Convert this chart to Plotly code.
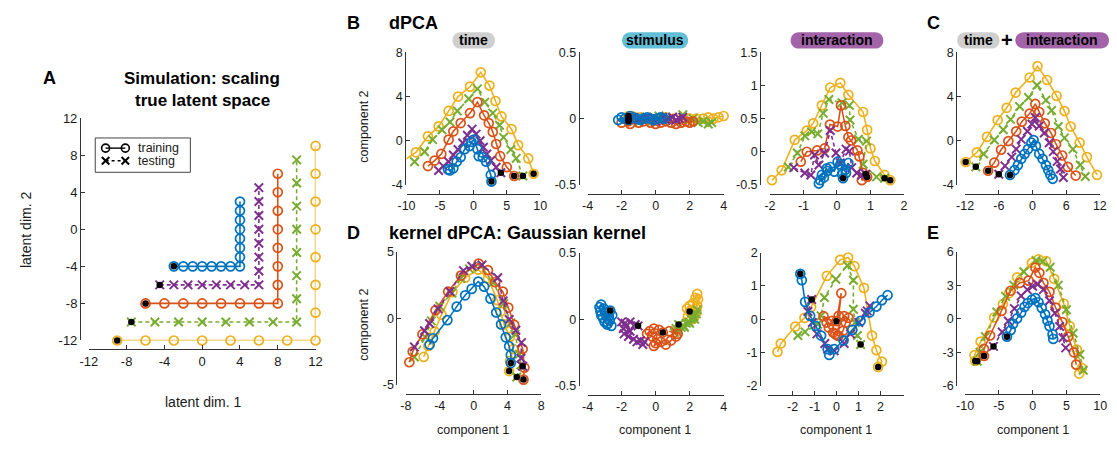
import plotly.graph_objects as go

W, H = 1117, 449
FONT = "Liberation Sans, Arial, Helvetica, sans-serif"
TXT = "#1a1a1a"
COL = {"blue": "#0072BD", "orange": "#D95319", "yellow": "#EDB120",
       "purple": "#7E2F8E", "green": "#77AC30"}
TESTING = {"purple", "green"}
ORDER = ["yellow", "green", "orange", "purple", "blue"]

# ---------------- Panel A: true latent space ----------------
a_blue_x = [-3, -2, -1, 0, 1, 2, 3, 4, 4, 4, 4, 4, 4, 4, 4]
a_blue_y = [-4, -4, -4, -4, -4, -4, -4, -4, -3, -2, -1, 0, 1, 2, 3]
a_purple_x = [-4.5, -3, -1.5, 0, 1.5, 3, 4.5, 6, 6, 6, 6, 6, 6, 6, 6]
a_purple_y = [-6, -6, -6, -6, -6, -6, -6, -6, -4.5, -3, -1.5, 0, 1.5, 3, 4.5]
a_orange_x = [-6, -4, -2, 0, 2, 4, 6, 8, 8, 8, 8, 8, 8, 8, 8]
a_orange_y = [-8, -8, -8, -8, -8, -8, -8, -8, -6, -4, -2, 0, 2, 4, 6]
a_green_x = [-7.5, -5, -2.5, 0, 2.5, 5, 7.5, 10, 10, 10, 10, 10, 10, 10, 10]
a_green_y = [-10, -10, -10, -10, -10, -10, -10, -10, -7.5, -5, -2.5, 0, 2.5, 5, 7.5]
a_yellow_x = [-9, -6, -3, 0, 3, 6, 9, 12, 12, 12, 12, 12, 12, 12, 12]
a_yellow_y = [-12, -12, -12, -12, -12, -12, -12, -12, -9, -6, -3, 0, 3, 6, 9]

# ---------------- Panel B: dPCA time ----------------
bt_yellow_x = [9.0, 8.2, 6.7, 5.7, 4.2, 3.3, 2.4, 1.1, -0.5, -2.3, -3.7, -5.2, -6.8, -8.6, -10.2]
bt_yellow_y = [-3.0, -1.6, -0.4, 1.05, 2.2, 3.6, 5.0, 6.2, 4.9, 4.0, 2.7, 1.3, 0.4, -1.05, -1.7]
bt_green_x = [7.4, 6.4, 5.6, 4.5, 3.9, 2.9, 1.7, 0.6, -0.7, -2.4, -3.5, -4.7, -6.1, -7.3, -8.8]
bt_green_y = [-3.2, -1.6, -0.8, 0.3, 1.4, 2.5, 3.5, 4.7, 3.8, 2.7, 1.7, 1.0, 0.1, -1.0, -1.9]
bt_orange_x = [6.1, 5.0, 4.0, 3.4, 2.9, 2.3, 1.6, 0.6, -0.5, -1.9, -3.0, -3.7, -4.8, -5.8, -6.8]
bt_orange_y = [-3.2, -2.4, -1.4, -0.3, 0.8, 1.6, 2.3, 3.5, 2.5, 1.6, 0.85, 0.1, -1.2, -1.8, -2.3]
bt_purple_x = [4.1, 3.4, 2.6, 2.0, 1.5, 1.0, 0.4, -0.2, -0.9, -1.6, -2.3, -3.0, -3.7, -4.5, -5.2]
bt_purple_y = [-2.9, -2.4, -1.8, -1.2, -0.6, 0.0, 0.6, 1.05, 0.5, -0.2, -0.8, -1.3, -1.9, -2.3, -2.7]
bt_blue_x = [2.7, 2.6, 1.9, 1.4, 0.8, 0.6, 0.05, -0.3, -0.6, -1.3, -1.9, -2.5, -3.0, -3.5, -3.8]
bt_blue_y = [-3.7, -3.1, -1.9, -1.5, -1.4, -0.76, 0.1, -0.1, -0.5, -0.76, -1.5, -1.9, -2.5, -2.7, -2.6]

# ---------------- Panel B: dPCA stimulus ----------------
bs_yellow_x = [-1.6, -1.4, -0.9, -0.4, 0.1, 0.6, 1.1, 1.6, 2.0, 2.4, 2.8, 3.1, 3.4, 3.7, 4.0]
bs_yellow_y = [0.02, 0.02, 0.01, 0.0, 0.0, 0.01, 0.0, -0.01, 0.0, 0.0, 0.0, 0.01, 0.0, 0.01, 0.02]
bs_green_x = [-1.6, -1.0, -0.6, -0.2, 0.2, 0.6, 1.0, 1.3, 1.6, 1.9, 2.2, 2.5, 2.8, 3.1, 3.3]
bs_green_y = [-0.01, -0.03, 0.01, -0.02, 0.02, -0.01, 0.01, -0.03, 0.03, -0.02, 0.0, -0.03, -0.02, -0.04, -0.03]
bs_orange_x = [-1.6, -2.0, -1.5, -1.0, -0.7, -0.3, 0.0, 0.3, 0.6, 0.9, 1.2, 1.5, 1.8, 2.0, 2.2]
bs_orange_y = [-0.02, -0.03, -0.04, -0.03, -0.02, -0.03, -0.04, -0.03, -0.02, -0.03, -0.04, -0.03, -0.02, -0.03, -0.02]
bs_purple_x = [-1.6, -1.3, -1.0, -0.8, -0.5, -0.3, 0.0, 0.2, 0.4, 0.6, 0.8, 1.0, 1.2, 1.4, 1.6]
bs_purple_y = [0.0, 0.01, -0.01, 0.0, 0.01, 0.0, -0.02, 0.0, 0.01, -0.01, 0.0, 0.01, -0.01, 0.0, 0.01]
bs_blue_x = [-1.6, -2.2, -2.0, -1.8, -1.5, -1.3, -1.1, -0.9, -0.7, -0.5, -0.3, -0.1, 0.1, 0.3, 0.5]
bs_blue_y = [-0.01, -0.01, 0.01, 0.0, 0.02, 0.01, 0.0, -0.01, 0.0, 0.01, 0.0, -0.01, 0.0, 0.01, 0.0]

# ---------------- Panel B: dPCA interaction ----------------
bi_yellow_x = [1.59, 1.42, 1.13, 1.0, 0.9, 0.78, 0.34, 0.1, -0.2, -0.45, -0.71, -0.9, -1.26, -1.65, -1.94]
bi_yellow_y = [-0.43, -0.35, -0.14, 0.05, 0.33, 0.6, 0.86, 1.04, 0.97, 0.7, 0.43, 0.32, 0.18, -0.28, -0.43]
bi_green_x = [1.42, 1.18, 0.78, 0.88, 0.64, 0.39, 0.37, 0.15, -0.24, -0.41, -0.57, -0.76, -0.96, -1.18, -1.45]
bi_green_y = [-0.4, -0.38, -0.19, 0.16, 0.19, 0.48, 0.7, 0.74, 0.79, 0.58, 0.27, 0.3, 0.24, -0.02, -0.23]
bi_orange_x = [0.9, 0.74, 0.78, 0.67, 0.61, 0.42, 0.34, 0.25, 0.12, 0.02, -0.21, -0.37, -0.59, -0.9, -1.08]
bi_orange_y = [-0.38, -0.43, -0.32, -0.07, 0.02, 0.17, 0.22, 0.39, 0.70, 0.38, 0.41, 0.05, 0.02, 0.0, -0.15]
bi_purple_x = [0.86, 0.74, 0.59, 0.44, 0.37, 0.27, 0.1, -0.03, -0.2, -0.37, -0.54, -0.67, -0.78, -0.96, -1.29]
bi_purple_y = [-0.34, -0.35, -0.32, -0.24, 0.01, 0.04, -0.17, -0.02, 0.32, -0.02, -0.2, -0.05, -0.35, -0.32, -0.24]
bi_blue_x = [0.18, 0.15, 0.27, 0.34, 0.25, 0.1, 0.02, -0.08, -0.2, -0.29, -0.39, -0.5, -0.54, -0.45, -0.3]
bi_blue_y = [-0.4, -0.34, -0.32, -0.17, -0.27, -0.19, -0.15, -0.3, -0.23, -0.29, -0.39, -0.43, -0.48, -0.35, -0.25]

# ---------------- Panel C: time + interaction ----------------
c_yellow_x = [-11.9, -9.9, -8.1, -6.2, -4.6, -3.0, -0.5, 0.9, 2.6, 4.3, 5.7, 6.8, 8.4, 9.7, 11.5]
c_yellow_y = [-1.93, -1.05, 0.35, 1.87, 2.98, 4.36, 5.73, 6.75, 5.5, 4.06, 2.69, 1.29, -0.18, -1.49, -3.1]
c_green_x = [-10.1, -8.7, -6.8, -5.2, -3.9, -2.3, -0.7, 0.8, 2.4, 3.4, 4.6, 5.7, 7.2, 8.5, 9.4]
c_green_y = [-2.37, -1.2, 0.06, 0.99, 1.93, 3.1, 3.92, 5.03, 3.68, 2.75, 1.29, 0.26, -0.76, -2.2, -3.25]
c_orange_x = [-7.9, -6.8, -5.6, -4.3, -2.9, -1.9, -0.5, 0.5, 1.2, 2.2, 3.3, 4.2, 5.3, 6.3, 7.7]
c_orange_y = [-2.72, -1.99, -0.82, -0.03, 0.85, 1.73, 2.46, 3.33, 2.6, 1.58, 0.7, -0.32, -1.34, -2.37, -3.16]
c_purple_x = [-6.0, -4.9, -3.7, -2.9, -2.0, -0.9, -0.1, 0.5, 1.2, 2.1, 3.0, 3.7, 4.4, 5.0, 5.5]
c_purple_y = [-3.04, -2.28, -1.49, -0.76, 0.12, 0.85, 1.52, 2.1, 1.34, 0.7, -0.18, -0.99, -1.87, -2.57, -3.33]
c_blue_x = [-4.0, -3.2, -2.6, -2.0, -1.4, -0.8, -0.2, 0.2, 0.6, 1.2, 1.8, 2.4, 2.8, 3.2, 3.6]
c_blue_y = [-3.1, -2.66, -2.22, -1.64, -1.2, -0.76, -0.18, 0.06, -0.47, -1.2, -1.64, -2.22, -2.66, -3.1, -3.45]

# ---------------- Panel D: kernel dPCA time ----------------
dt_yellow_x = [4.2, 4.3, 4.7, 4.3, 3.6, 3.2, 2.8, 1.7, 0.55, -1.0, -2.5, -3.8, -4.6, -5.35, -5.9]
dt_yellow_y = [-3.96, -3.2, -2.3, -1.4, -0.46, 0.5, 1.35, 3.0, 3.64, 3.04, 1.96, 0.27, -1.0, -2.08, -2.9]
dt_green_x = [5.1, 5.6, 5.4, 4.9, 4.4, 3.57, 2.3, 0.85, -0.5, -1.5, -2.56, -4.0, -5.0, -5.7, -7.0]
dt_green_y = [-4.4, -3.5, -2.7, -1.2, -0.34, 1.1, 2.7, 3.89, 3.7, 3.0, 1.88, 0.9, -0.2, -1.43, -2.9]
dt_orange_x = [5.9, 6.0, 5.8, 4.8, 4.1, 3.45, 2.56, 1.7, 0.6, -1.5, -3.0, -4.5, -6.05, -7.2, -7.6]
dt_orange_y = [-4.6, -3.7, -2.3, -0.5, 0.8, 2.0, 2.7, 3.6, 4.1, 3.2, 2.0, 0.6, -1.2, -2.5, -3.3]
dt_purple_x = [5.8, 5.6, 5.66, 5.0, 4.2, 3.5, 2.85, 1.0, -0.2, -1.2, -2.8, -4.2, -5.2, -5.8, -7.0]
dt_purple_y = [-3.6, -3.0, -1.83, -0.9, -0.1, 1.3, 3.04, 4.0, 3.9, 3.57, 2.0, 0.7, -0.4, -0.94, -2.15]
dt_blue_x = [4.4, 4.4, 4.2, 3.8, 3.25, 2.67, 2.0, 1.24, 0.55, -0.23, -1.0, -2.0, -3.1, -4.8, -5.2]
dt_blue_y = [-3.36, -2.75, -2.1, -1.43, -0.46, 0.43, 1.47, 2.37, 2.75, 2.2, 1.72, 0.87, -0.14, -1.5, -1.98]

# ---------------- Panel D: kernel dPCA stimulus ----------------
ds_yellow_x = [2.0, 1.9, 1.85, 2.0, 2.15, 2.3, 2.4, 2.45, 2.5, 2.45, 2.35, 2.2, 2.1, 2.25, 2.4]
ds_yellow_y = [0.058, 0.02, 0.08, 0.1, 0.07, 0.03, 0.05, 0.1, 0.15, 0.19, 0.16, 0.12, 0.0, 0.01, 0.08]
ds_green_x = [1.35, 1.2, 1.1, 1.3, 1.5, 1.65, 1.8, 1.95, 2.1, 2.25, 2.4, 2.45, 2.3, 2.0, 1.7]
ds_green_y = [-0.04, -0.07, -0.1, -0.08, -0.06, -0.05, -0.03, -0.02, 0.0, 0.02, 0.04, 0.07, 0.0, -0.03, -0.06]
ds_orange_x = [0.42, 0.2, -0.1, -0.35, -0.5, -0.2, 0.1, 0.0, -0.1, 0.3, 0.6, 0.9, 1.2, 1.3, 0.8]
ds_orange_y = [-0.1, -0.08, -0.07, -0.09, -0.11, -0.13, -0.15, -0.18, -0.2, -0.17, -0.19, -0.16, -0.13, -0.11, -0.09]
ds_purple_x = [-1.03, -1.2, -1.5, -1.8, -2.0, -1.9, -1.7, -1.5, -1.85, -1.6, -1.3, -1.1, -0.9, -0.75, -0.65]
ds_purple_y = [-0.05, -0.04, -0.02, -0.03, -0.02, -0.07, -0.05, -0.09, -0.11, -0.13, -0.15, -0.17, -0.16, -0.19, -0.17]
ds_blue_x = [-2.67, -2.55, -2.7, -2.85, -3.0, -3.1, -3.2, -3.25, -3.3, -3.2, -3.05, -2.9, -2.75, -2.6, -2.8]
ds_blue_y = [0.065, 0.03, -0.01, -0.04, -0.02, 0.01, 0.03, 0.06, 0.09, 0.11, 0.08, 0.05, 0.02, -0.05, -0.03]

# ---------------- Panel D: kernel dPCA interaction ----------------
di_yellow_x = [1.9, 2.07, 1.82, 1.62, 1.25, 0.82, 0.53, 0.17, -0.44, -1.16, -1.46, -1.88, -2.54, -2.69]
di_yellow_y = [-1.43, -1.27, -0.93, -0.49, 0.94, 1.59, 1.85, 1.78, 1.3, 0.36, 0.04, -0.22, -0.73, -0.98]
di_green_x = [1.1, 0.95, 0.85, 0.77, 0.77, 0.5, -0.03, -0.55, -0.7, -0.86, -1.43, -1.76]
di_green_y = [-0.76, -0.49, -0.1, 0.3, 1.17, 1.61, 1.2, 0.65, 0.1, -0.15, -0.38, -0.49]
di_orange_x = [0.0, 0.22, 0.1, -0.2, -0.59, -0.45, -0.35, -0.15, 0.05, 0.1, 0.3, 0.42, 0.55, 0.35, -0.05]
di_orange_y = [-0.06, 0.78, 0.1, -0.05, 0.09, -0.1, -0.25, -0.4, -0.49, -0.5, -0.35, -0.1, 0.04, 0.09, -0.45]
di_purple_x = [-1.13, -1.3, -1.1, -0.89, -0.53, -0.4, -0.1, 0.35, 0.64, 1.02, 1.32, 1.52, 1.4]
di_purple_y = [0.59, 0.23, -0.1, -0.44, -0.73, -0.9, -0.95, -0.73, -0.44, -0.1, 0.18, 0.4, 0.25]
di_blue_x = [-1.65, -1.58, -1.43, -1.2, -0.95, -0.7, -0.4, -0.33, -0.1, 0.32, 0.72, 1.1, 1.5, 1.82, 2.07, 2.33]
di_blue_y = [1.36, 1.17, 0.52, 0.1, -0.2, -0.49, -0.9, -1.07, -0.9, -0.64, -0.32, -0.05, 0.2, 0.38, 0.57, 0.72]

# ---------------- Panel E ----------------
e_yellow_x = [-8.5, -8.6, -7.7, -5.7, -4.4, -3.5, -2.3, -0.1, 0.87, 2.0, 3.2, 4.6, 5.5, 6.55, 7.3, 6.9]
e_yellow_y = [-3.77, -3.25, -2.04, 0.11, 1.3, 2.27, 3.7, 5.0, 5.3, 5.15, 3.56, 1.35, -0.66, -2.76, -4.4, -4.9]
e_green_x = [-8.2, -7.8, -7.0, -5.3, -4.0, -2.8, -1.3, 0.5, 1.5, 2.6, 3.8, 5.0, 6.0, 7.0, 7.5]
e_green_y = [-3.8, -3.0, -1.6, 0.6, 2.0, 3.0, 4.2, 5.2, 5.1, 4.6, 3.0, 0.8, -1.3, -3.2, -4.6]
e_orange_x = [-7.2, -7.2, -6.3, -4.6, -3.25, -1.9, -0.6, 0.4, 1.0, 1.6, 2.5, 3.4, 4.4, 5.25, 6.1, 6.45]
e_orange_y = [-3.33, -2.7, -1.5, 0.7, 2.5, 3.2, 3.4, 4.57, 4.1, 3.2, 2.4, 1.0, -0.3, -1.6, -3.0, -4.1]
e_purple_x = [-5.8, -4.5, -3.6, -2.7, -1.7, -0.8, 0.0, 0.73, 1.6, 2.5, 3.3, 4.0, 4.5, 4.9]
e_purple_y = [-2.47, -1.18, -0.2, 0.9, 2.04, 2.6, 2.9, 3.08, 2.6, 1.6, 0.5, -0.7, -1.7, -2.6]
e_blue_x = [-3.8, -3.25, -2.9, -2.3, -1.7, -1.2, -0.73, -0.1, 0.39, 0.87, 1.35, 1.85, 2.2, 2.5, 2.95, 3.05]
e_blue_y = [-1.6, -1.03, -0.46, 0.03, 0.54, 1.06, 1.4, 1.7, 1.84, 1.47, 0.97, 0.4, -0.17, -0.66, -1.4, -1.8]

# ---------------- tick labels ----------------
a_ticks = [-12, -8, -4, 0, 4, 8, 12]
bt_xticks, bt_yticks = [-10, -5, 0, 5, 10], [-4, 0, 4, 8]
stim_xticks, stim_yticks = [-4, -2, 0, 2, 4], [-0.5, 0, 0.5]
bi_xticks, bi_yticks = [-2, -1, 0, 1, 2], [-0.5, 0, 0.5, 1, 1.5]
c_xticks, c_yticks = [-12, -6, 0, 6, 12], [-4, 0, 4, 8]
dt_xticks, dt_yticks = [-8, -4, 0, 4, 8], [-5, 0, 5]
di_xticks, di_yticks = [-2, -1, 0, 1, 2], [-2, -1, 0, 1, 2]
e_xticks, e_yticks = [-10, -5, 0, 5, 10], [-6, -3, 0, 3, 6]

data = {k: v for k, v in globals().items()}


def fx(px):
    return px / W


def fy(py):
    return 1 - py / H


# panel id, x-domain px, y-domain px (top, bottom), y-line px, x-line py, ranges, ticks, tick font
PANELS = [
    ("a", (81, 311), (115, 345), 72, 354, [-12, 12], [-12, 12], a_ticks, a_ticks, 13),
    ("bt", (403.3, 539), (47, 184), 402, 193, [-10, 10], [-4, 8], bt_xticks, bt_yticks, 12.5),
    ("bs", (587, 725), (47, 184), 578, 193, [-4, 4], [-0.5, 0.5], stim_xticks, stim_yticks, 12.5),
    ("bi", (772, 908), (47, 184), 762, 193, [-2, 2], [-0.5, 1.5], bi_xticks, bi_yticks, 12.5),
    ("c", (970, 1106.7), (47, 184), 961, 193, [-12, 12], [-4, 8], c_xticks, c_yticks, 12.5),
    ("dt", (402.7, 540), (253, 391), 393, 400, [-8, 8], [-5, 5], dt_xticks, dt_yticks, 12.5),
    ("ds", (587, 725), (254, 392), 578, 401, [-4, 4], [-0.5, 0.5], stim_xticks, stim_yticks, 12.5),
    ("di", (770.5, 908.5), (254, 392), 762, 401, [-3.1, 3.1], [-2, 2], di_xticks, di_yticks, 12.5),
    ("e", (970, 1107), (253, 392), 961, 400, [-10, 10], [-6, 6], e_xticks, e_yticks, 12.5),
]


def fmt(v):
    return str(v).replace(".0", "") if isinstance(v, float) and v.is_integer() else str(v)


fig = go.Figure()
layout = {}
for i, (pid, xd, yd, yline, xline, xr, yr, xt, yt, tfs) in enumerate(PANELS, start=1):
    xa, ya = ("xaxis%d" % i, "yaxis%d" % i) if i > 1 else ("xaxis", "yaxis")
    xref, yref = ("x%d" % i, "y%d" % i) if i > 1 else ("x", "y")
    common = dict(showline=True, linecolor="#333333", linewidth=1, ticks="inside", ticklen=4,
                  tickcolor="#333333", showgrid=False, zeroline=False, anchor="free",
                  tickfont=dict(family=FONT, size=tfs, color=TXT), fixedrange=True)
    layout[xa] = dict(common, domain=[fx(xd[0]), fx(xd[1])], range=xr, position=fy(xline),
                      tickvals=xt, ticktext=[fmt(v) for v in xt])
    layout[ya] = dict(common, domain=[fy(yd[1]), fy(yd[0])], range=yr, position=fx(yline),
                      tickvals=yt, ticktext=[fmt(v) for v in yt])
    for c in ORDER:
        xs, ys = data["%s_%s_x" % (pid, c)], data["%s_%s_y" % (pid, c)]
        test = c in TESTING
        fig.add_trace(go.Scatter(
            x=xs, y=ys, xaxis=xref, yaxis=yref, mode="lines+markers", showlegend=False,
            cliponaxis=False,
            line=dict(color=COL[c], width=1.6, dash="4px,3px" if test else "solid"),
            marker=dict(symbol="x-thin-open" if test else "circle-open", size=8.5 if test else 9,
                        color=COL[c], line=dict(color=COL[c], width=2 if test else 1.7))))
    for c in ORDER:
        xs, ys = data["%s_%s_x" % (pid, c)], data["%s_%s_y" % (pid, c)]
        fig.add_trace(go.Scatter(
            x=xs[:1], y=ys[:1], xaxis=xref, yaxis=yref, mode="markers", showlegend=False,
            cliponaxis=False, marker=dict(symbol="circle", size=6.5, color="black")))

# overlay axis for the legend samples of panel A (pixel coordinates)
layout["xaxis10"] = dict(domain=[0, 1], range=[0, W], visible=False, anchor="y10", fixedrange=True)
layout["yaxis10"] = dict(domain=[0, 1], range=[H, 0], visible=False, anchor="x10", fixedrange=True)
fig.add_trace(go.Scatter(x=[98, 118], y=[146, 146], xaxis="x10", yaxis="y10", mode="lines+markers",
                         showlegend=False, line=dict(color="black", width=1.4),
                         marker=dict(symbol="circle-open", size=8, color="black", line=dict(width=1.6, color="black"))))
fig.add_trace(go.Scatter(x=[98, 118], y=[159, 159], xaxis="x10", yaxis="y10", mode="lines+markers",
                         showlegend=False, line=dict(color="black", width=1.4, dash="3px,3px"),
                         marker=dict(symbol="x-thin-open", size=7.5, color="black", line=dict(width=2, color="black"))))

shapes = [dict(type="rect", xref="paper", yref="paper", x0=fx(87.5), x1=fx(184), y0=fy(171), y1=fy(135.5),
               line=dict(color="#444444", width=1), fillcolor="white", layer="below")]


def pill(x0, x1, y0, y1, color):
    r = (y1 - y0) / 2.0
    k = 1.333 * r
    pts = "M{a},{b} L{c},{b} C{d},{b} {d},{e} {c},{e} L{a},{e} C{f},{e} {f},{b} {a},{b} Z".format(
        a=fx(x0 + r), b=fy(y0), c=fx(x1 - r), d=fx(x1 - r + k), e=fy(y1), f=fx(x0 + r - k))
    return dict(type="path", xref="paper", yref="paper", path=pts, fillcolor=color,
                line=dict(width=0), layer="below")


GRAY, CYAN, PURP = "#cfcfcf", "#63bfd7", "#a263a8"
PILLS = [(450, 493, GRAY, "time"), (622, 689, CYAN, "stimulus"), (793, 887, PURP, "interaction"),
         (962, 1005, GRAY, "time"), (1021, 1116, PURP, "interaction")]
annotations = []
for x0, x1, col, label in PILLS:
    shapes.append(pill(x0, x1, 26, 43, col))
    annotations.append(dict(x=fx((x0 + x1) / 2), y=fy(34.5), xref="paper", yref="paper", text="<b>%s</b>" % label,
                            showarrow=False, font=dict(family=FONT, size=14, color="black"),
                            xanchor="center", yanchor="middle"))


def txt(x, y, s, size, bold=False, anchor="center", angle=0):
    annotations.append(dict(x=fx(x), y=fy(y), xref="paper", yref="paper",
                            text=("<b>%s</b>" % s) if bold else s, showarrow=False, textangle=angle,
                            font=dict(family=FONT, size=size, color=TXT if not bold else "black"),
                            xanchor=anchor, yanchor="middle"))


txt(1013, 34, "+", 20, bold=True)
txt(41, 73, "A", 18, bold=True)
txt(196, 74, "Simulation: scaling", 17, bold=True)
txt(196, 97, "true latent space", 17, bold=True)
txt(350, 17, "B", 18, bold=True)
txt(383, 17, "dPCA", 18, bold=True, anchor="left")
txt(938, 17, "C", 18, bold=True)
txt(350, 234, "D", 18, bold=True)
txt(383, 234, "kernel dPCA: Gaussian kernel", 18, bold=True, anchor="left")
txt(937, 234, "E", 18, bold=True)
txt(129, 146, "training", 12.5, anchor="left")
txt(129, 159, "testing", 12.5, anchor="left")
txt(18, 231, "latent dim. 2", 14, angle=-90)
txt(197, 409, "latent dim. 1", 14)
txt(360, 124, "component 2", 12.5, angle=-90)
txt(360, 329, "component 2", 12.5, angle=-90)
for cx in (471, 655, 839, 1039):
    txt(cx, 438, "component 1", 12.5)

fig.update_layout(width=W, height=H, margin=dict(l=0, r=0, t=0, b=0), paper_bgcolor="white",
                  plot_bgcolor="rgba(0,0,0,0)", showlegend=False, shapes=shapes, annotations=annotations,
                  font=dict(family=FONT, color=TXT), **layout)
fig.write_html("out.html", config={"displayModeBar": False})
